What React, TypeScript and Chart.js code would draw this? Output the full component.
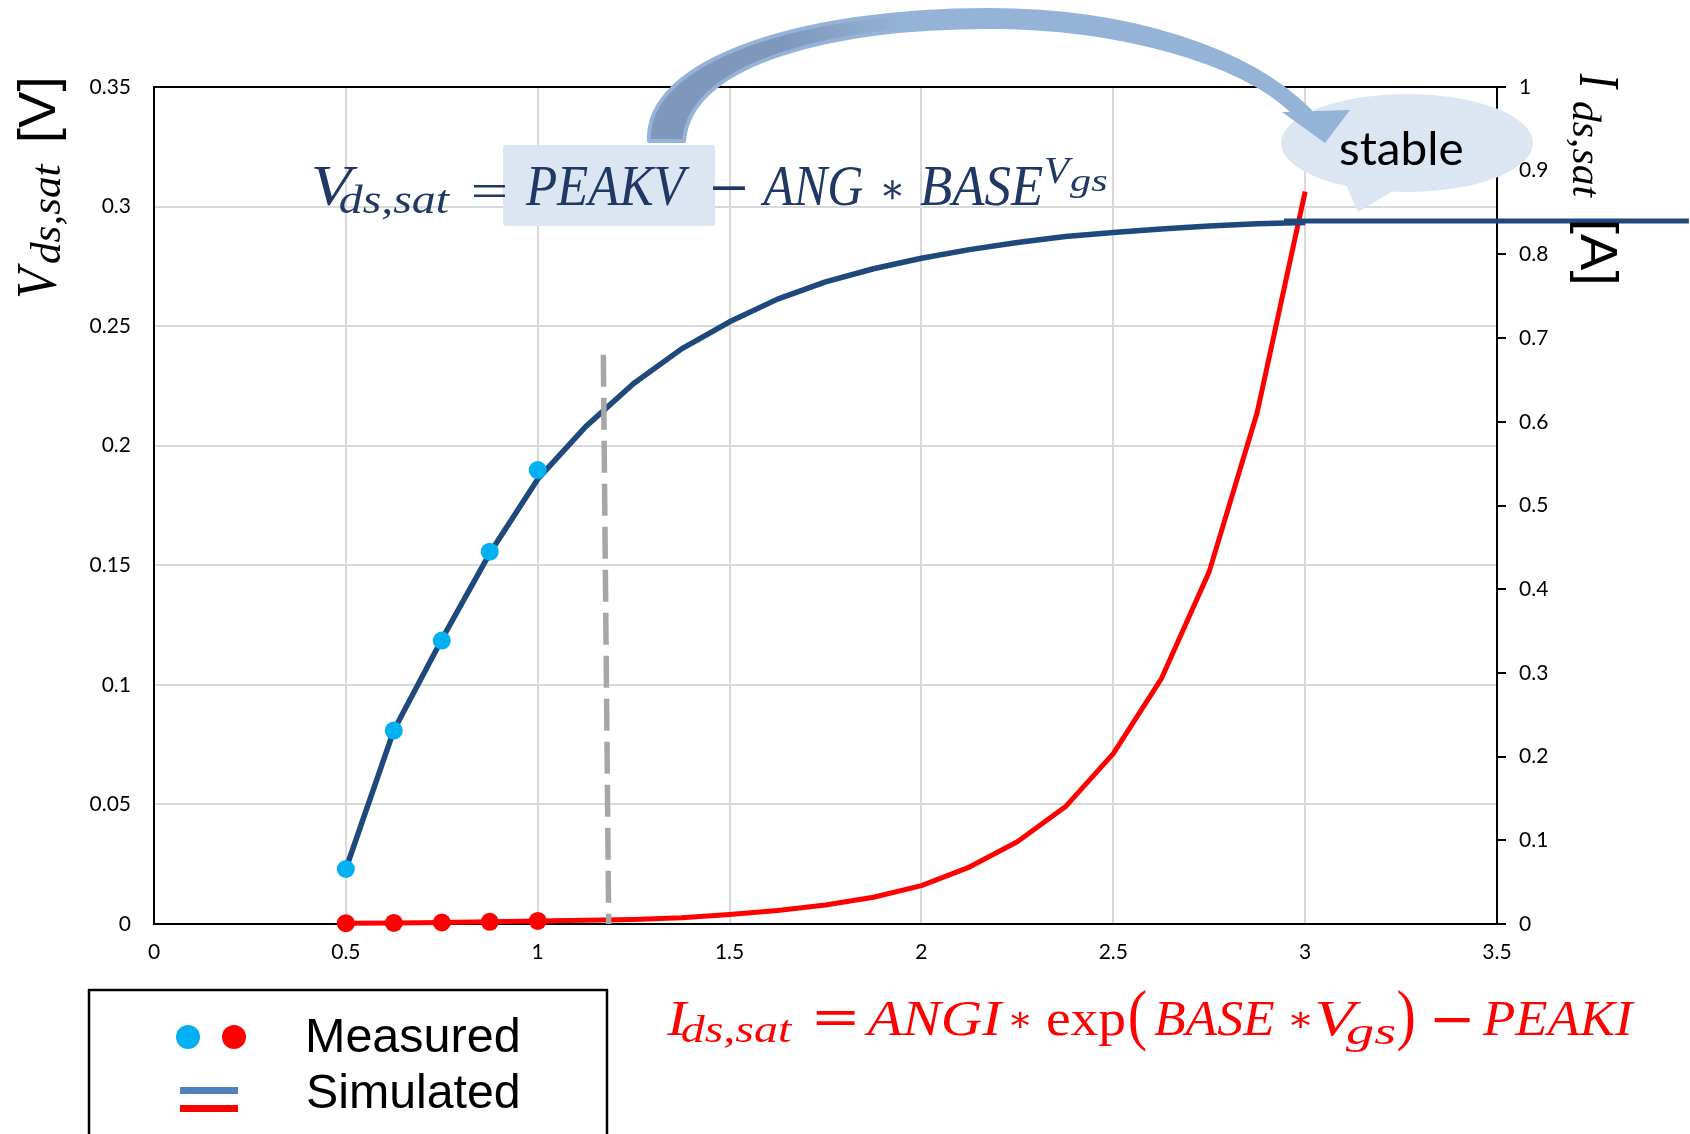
import React, { useEffect, useRef } from 'react';
import { Chart, registerables } from 'chart.js';

Chart.register(...registerables);

// ---- data ----
const VGS_SIM = [0.5, 0.625, 0.75, 0.875, 1.0, 1.125, 1.25, 1.375, 1.5, 1.625, 1.75, 1.875, 2.0, 2.125, 2.25, 2.375, 2.5, 2.625, 2.75, 2.875, 3.0];
const VDSAT_SIM = [0.023, 0.081, 0.119, 0.155, 0.186, 0.208, 0.226, 0.2405, 0.2518, 0.2613, 0.2685, 0.274, 0.2784, 0.282, 0.285, 0.2875, 0.2892, 0.2906, 0.2919, 0.2928, 0.2933];
const IDSAT_SIM = [0.001, 0.0013, 0.0018, 0.0026, 0.0037, 0.0045, 0.0055, 0.0075, 0.0113, 0.016, 0.0227, 0.032, 0.0458, 0.068, 0.0983, 0.14, 0.2036, 0.2928, 0.421, 0.611, 0.875];

const VGS_MEAS = [0.5, 0.625, 0.75, 0.875, 1.0];
const VDSAT_MEAS = [0.023, 0.0809, 0.1185, 0.1557, 0.1898];
const IDSAT_MEAS = [0.001, 0.0013, 0.0018, 0.0026, 0.0037];

const MARKER_VGS = [1.171, 1.185];
const MARKER_V = [0.238, 0];

const STABLE_VGS = [2.945, 4.0];
const STABLE_V = [0.294, 0.294];

const X_MIN = 0, X_MAX = 3.5, X_STEP = 0.5;
const Y_MIN = 0, Y_MAX = 0.35, Y_STEP = 0.05;
const Y1_MIN = 0, Y1_MAX = 1, Y1_STEP = 0.1;

const LEGEND_LABELS = ['Measured', 'Simulated'];
const BUBBLE_TEXT = 'stable';

// ---- styles ----
const NAVY_LINE = '#1F497D';
const NAVY_TEXT = '#1F3864';
const CYAN = '#00B0F0';
const RED = '#FF0000';
const SERIF = '"Liberation Serif", "DejaVu Serif", serif';
const SANS = '"Liberation Sans", Arial, sans-serif';
const TICKFONT = 'Lato, "Open Sans", sans-serif';

const pts = (xs: number[], ys: number[]) => xs.map((x, i) => ({ x, y: ys[i] }));

function fitText(ctx: CanvasRenderingContext2D, text: string, font: string, x0: number, w: number, baseline: number) {
  ctx.font = font;
  ctx.textAlign = 'left';
  ctx.textBaseline = 'alphabetic';
  const m = ctx.measureText(text);
  const ink = m.actualBoundingBoxLeft + m.actualBoundingBoxRight;
  const sx = ink > 0 ? w / ink : 1;
  ctx.save();
  ctx.translate(x0 + m.actualBoundingBoxLeft * sx, baseline);
  ctx.scale(sx, 1);
  ctx.fillText(text, 0, 0);
  ctx.restore();
}

function fitBox(ctx: CanvasRenderingContext2D, text: string, font: string, x0: number, y0: number, w: number, h: number) {
  ctx.font = font;
  ctx.textAlign = 'left';
  ctx.textBaseline = 'alphabetic';
  const m = ctx.measureText(text);
  const iw = m.actualBoundingBoxLeft + m.actualBoundingBoxRight;
  const ih = m.actualBoundingBoxAscent + m.actualBoundingBoxDescent;
  const sx = iw > 0 ? w / iw : 1;
  const sy = ih > 0 ? h / ih : 1;
  ctx.save();
  ctx.translate(x0 + m.actualBoundingBoxLeft * sx, y0 + m.actualBoundingBoxAscent * sy);
  ctx.scale(sx, sy);
  ctx.fillText(text, 0, 0);
  ctx.restore();
}

const overlay = {
  id: 'overlay',
  beforeDraw(chart: any) {
    const ctx = chart.ctx as CanvasRenderingContext2D;
    ctx.save();
    ctx.fillStyle = '#fff';
    ctx.fillRect(0, 0, chart.width, chart.height);
    ctx.restore();
  },
  beforeDatasetsDraw(chart: any) {
    const ctx = chart.ctx as CanvasRenderingContext2D;
    const a = chart.chartArea;
    ctx.save();
    ctx.strokeStyle = '#000';
    ctx.lineWidth = 2;
    ctx.beginPath();
    ctx.moveTo(a.left - 1, a.top);
    ctx.lineTo(a.right + 1, a.top);
    ctx.stroke();
    ctx.restore();
  },
  afterDraw(chart: any) {
    const ctx = chart.ctx as CanvasRenderingContext2D;
    ctx.save();

    // ---- left axis title ----
    ctx.fillStyle = '#000';
    ctx.save();
    ctx.rotate(-Math.PI / 2);
    fitText(ctx, 'V', `italic 56px ${SERIF}`, -297, 34, 56);
    fitText(ctx, 'ds,sat', `italic 42px ${SERIF}`, -263, 100, 60);
    fitText(ctx, '[V]', `52px ${SANS}`, -140, 60, 55);
    ctx.restore();

    // ---- right axis title ----
    ctx.save();
    ctx.rotate(Math.PI / 2);
    fitText(ctx, 'I', `italic 56px ${SERIF}`, 73, 17, -1580);
    fitText(ctx, 'ds,sat', `italic 40px ${SERIF}`, 102, 96, -1573);
    fitText(ctx, '[A]', `52px ${SANS}`, 222, 60, -1581);
    ctx.restore();

    // ---- formula 1 ----
    ctx.fillStyle = '#DCE6F2';
    ctx.beginPath();
    (ctx as any).roundRect ? (ctx as any).roundRect(503, 145, 212, 81, 3) : ctx.rect(503, 145, 212, 81);
    ctx.fill();
    ctx.fillStyle = NAVY_TEXT;
    fitText(ctx, 'V', `italic 56px ${SERIF}`, 313, 45, 205);
    fitText(ctx, 'ds,sat', `italic 40px ${SERIF}`, 340, 110, 213);
    fitBox(ctx, '=', `56px ${SERIF}`, 473, 185, 32, 12);
    fitText(ctx, 'PEAKV', `italic 56px ${SERIF}`, 525, 165, 205);
    fitBox(ctx, '\u2212', `56px ${SERIF}`, 712, 186, 33, 4);
    fitText(ctx, 'ANG', `italic 56px ${SERIF}`, 760, 103, 205);
    fitBox(ctx, '\u2217', `44px ${SERIF}`, 883, 180, 19, 20);
    fitText(ctx, 'BASE', `italic 56px ${SERIF}`, 920, 123, 205);
    fitText(ctx, 'V', `italic 38px ${SERIF}`, 1045, 28, 183);
    fitText(ctx, 'gs', `italic 32px ${SERIF}`, 1070, 37, 191);

    // ---- formula 2 ----
    ctx.fillStyle = RED;
    fitText(ctx, 'I', `italic 50px ${SERIF}`, 666, 23, 1035);
    fitText(ctx, 'ds,sat', `italic 38px ${SERIF}`, 682, 111, 1042);
    fitBox(ctx, '=', `bold 50px ${SERIF}`, 816, 1010, 39, 15);
    fitText(ctx, 'ANGI', `italic 50px ${SERIF}`, 864, 140, 1035);
    fitBox(ctx, '\u2217', `40px ${SERIF}`, 1011, 1011, 19, 17);
    fitText(ctx, 'exp', `50px ${SERIF}`, 1047, 78, 1035);
    fitBox(ctx, '(', `80px ${SERIF}`, 1130, 990, 16, 62);
    fitText(ctx, 'BASE', `italic 50px ${SERIF}`, 1154, 120, 1035);
    fitBox(ctx, '\u2217', `40px ${SERIF}`, 1291, 1011, 20, 17);
    fitText(ctx, 'V', `italic 50px ${SERIF}`, 1317, 45, 1035);
    fitText(ctx, 'gs', `italic 38px ${SERIF}`, 1346, 49, 1044);
    fitBox(ctx, ')', `80px ${SERIF}`, 1398, 990, 16, 62);
    fitBox(ctx, '\u2212', `50px ${SERIF}`, 1434, 1018, 36, 5);
    fitText(ctx, 'PEAKI', `italic 50px ${SERIF}`, 1482, 153, 1035);

    // ---- bubble ----
    ctx.fillStyle = '#DCE6F2';
    ctx.beginPath();
    ctx.ellipse(1407, 143, 126, 49, 0, 0, Math.PI * 2);
    ctx.fill();
    ctx.beginPath();
    ctx.moveTo(1343, 178);
    ctx.lineTo(1358, 212);
    ctx.lineTo(1398, 188);
    ctx.closePath();
    ctx.fill();

    // ---- curved arrow ----
    const grad = ctx.createLinearGradient(640, 0, 900, 0);
    grad.addColorStop(0, '#7E97BA');
    grad.addColorStop(0.55, '#7E97BA');
    grad.addColorStop(1, '#95B3D7');
    ctx.beginPath();
    ctx.moveTo(649, 141);
    ctx.bezierCurveTo(645, 60, 800, 10, 989, 10);
    ctx.bezierCurveTo(1130, 10, 1250, 50, 1310, 111);
    ctx.lineTo(1292, 111);
    ctx.bezierCurveTo(1240, 62, 1120, 27, 989, 27);
    ctx.bezierCurveTo(840, 27, 690, 60, 684, 141);
    ctx.closePath();
    ctx.fillStyle = grad;
    ctx.fill();
    ctx.strokeStyle = '#95B3D7';
    ctx.lineWidth = 4;
    ctx.lineJoin = 'round';
    ctx.stroke();
    ctx.fillStyle = '#95B3D7';
    ctx.beginPath();
    ctx.moveTo(1282, 112);
    ctx.lineTo(1350, 110);
    ctx.lineTo(1325, 143);
    ctx.closePath();
    ctx.fill();

    ctx.fillStyle = '#000';
    fitText(ctx, BUBBLE_TEXT, `47px ${TICKFONT}`, 1340, 122, 165);

    // ---- legend ----
    ctx.strokeStyle = '#000';
    ctx.lineWidth = 2.5;
    ctx.strokeRect(89, 990, 518, 200);
    ctx.fillStyle = CYAN;
    ctx.beginPath();
    ctx.arc(188, 1037, 12, 0, Math.PI * 2);
    ctx.fill();
    ctx.fillStyle = RED;
    ctx.beginPath();
    ctx.arc(234, 1037, 12, 0, Math.PI * 2);
    ctx.fill();
    ctx.fillStyle = '#4F81BD';
    ctx.fillRect(180, 1087, 58, 7);
    ctx.fillStyle = RED;
    ctx.fillRect(180, 1105, 58, 7);
    ctx.fillStyle = '#000';
    fitText(ctx, LEGEND_LABELS[0], `48px ${SANS}`, 308, 210, 1052);
    fitText(ctx, LEGEND_LABELS[1], `48px ${SANS}`, 308, 210, 1108);

    ctx.restore();
  },
};

const fmt = (d: number) => (v: any) => String(Number(Number(v).toFixed(d)));

export default function App() {
  const ref = useRef<HTMLCanvasElement>(null);
  useEffect(() => {
    const canvas = ref.current;
    if (!canvas) return;
    const tickFont = { family: TICKFONT, size: 21 };
    const chart = new Chart(canvas, {
      type: 'line',
      data: {
        datasets: [
          { label: 'Vdsat measured', data: pts(VGS_MEAS, VDSAT_MEAS), yAxisID: 'y', showLine: false, pointRadius: 9, pointBackgroundColor: CYAN, pointBorderWidth: 0, borderColor: CYAN, clip: false, order: 0 },
          { label: 'Idsat measured', data: pts(VGS_MEAS, IDSAT_MEAS), yAxisID: 'y1', showLine: false, pointRadius: 9, pointBackgroundColor: RED, pointBorderWidth: 0, borderColor: RED, clip: false, order: 0 },
          { label: 'stable', data: pts(STABLE_VGS, STABLE_V), yAxisID: 'y', borderColor: NAVY_LINE, borderWidth: 5, pointRadius: 0, clip: false, order: 1 },
          { label: 'Vdsat simulated', data: pts(VGS_SIM, VDSAT_SIM), yAxisID: 'y', borderColor: NAVY_LINE, borderWidth: 5.5, pointRadius: 0, borderJoinStyle: 'round', clip: false, order: 2 },
          { label: 'Idsat simulated', data: pts(VGS_SIM, IDSAT_SIM), yAxisID: 'y1', borderColor: RED, borderWidth: 5, pointRadius: 0, borderJoinStyle: 'round', clip: false, order: 3 },
          { label: 'Vgs marker', data: pts(MARKER_VGS, MARKER_V), yAxisID: 'y', borderColor: '#A6A6A6', borderWidth: 5.5, borderDash: [32, 11], pointRadius: 0, clip: false, order: -1 },
        ] as any,
      },
      options: {
        responsive: false,
        devicePixelRatio: 1,
        animation: false,
        layout: { padding: { top: 87, left: 0, right: 0, bottom: 0 } },
        plugins: { legend: { display: false }, tooltip: { enabled: false } },
        scales: {
          x: {
            type: 'linear', min: X_MIN, max: X_MAX,
            ticks: { stepSize: X_STEP, font: tickFont, color: '#000', padding: 16, callback: fmt(2), maxRotation: 0 },
            grid: { color: '#D9D9D9', lineWidth: 2, drawTicks: false },
            border: { color: '#000', width: 2 },
            afterFit: (s: any) => { s.height = 210; },
          },
          y: {
            type: 'linear', position: 'left', min: Y_MIN, max: Y_MAX,
            ticks: { stepSize: Y_STEP, font: tickFont, color: '#000', padding: 23, callback: fmt(2) },
            grid: { color: '#D9D9D9', lineWidth: 2, drawTicks: false },
            border: { color: '#000', width: 2 },
            afterFit: (s: any) => { s.width = 154; },
          },
          y1: {
            type: 'linear', position: 'right', min: Y1_MIN, max: Y1_MAX,
            ticks: { stepSize: Y1_STEP, font: tickFont, color: '#000', padding: 13, callback: fmt(1) },
            grid: { drawOnChartArea: false, drawTicks: true, tickLength: 9, color: '#000', lineWidth: 2 },
            border: { color: '#000', width: 2 },
            afterFit: (s: any) => { s.width = 193; },
          },
        },
      } as any,
      plugins: [overlay as any],
    });
    return () => chart.destroy();
  }, []);
  return (
    <div style={{ position: 'absolute', left: 0, top: 0, width: 1690, height: 1134, background: '#fff', overflow: 'hidden' }}>
      <canvas ref={ref} width={1690} height={1134} style={{ display: 'block', width: 1690, height: 1134 }} />
    </div>
  );
}
